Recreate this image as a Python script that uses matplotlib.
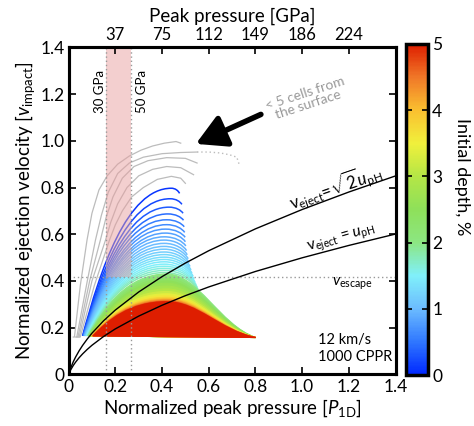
import matplotlib
matplotlib.use('Agg')
import matplotlib.pyplot as plt
from matplotlib.path import Path
from matplotlib.patches import PathPatch, Rectangle
from matplotlib.colors import LinearSegmentedColormap, Normalize
import matplotlib.cm as cm

plt.rcParams['font.family'] = ['Lato', 'DejaVu Sans']
plt.rcParams['mathtext.fontset'] = 'custom'
plt.rcParams['mathtext.rm'] = 'Lato'
plt.rcParams['mathtext.it'] = 'Lato:italic'
plt.rcParams['mathtext.sf'] = 'Lato'

# ---------------- data ----------------
x_ticks = [0, 0.2, 0.4, 0.6, 0.8, 1.0, 1.2, 1.4]
x_ticklabels = ['0', '0.2', '0.4', '0.6', '0.8', '1.0', '1.2', '1.4']
y_ticks = [0, 0.2, 0.4, 0.6, 0.8, 1.0, 1.2, 1.4]
y_ticklabels = ['0', '0.2', '0.4', '0.6', '0.8', '1.0', '1.2', '1.4']
top_ticks = [0.2, 0.4, 0.6, 0.8, 1.0, 1.2]
top_ticklabels = ['37', '75', '112', '149', '186', '224']
cbar_ticks = [0, 1, 2, 3, 4, 5]

band_x = [0.161, 0.268]        # 30 GPa, 50 GPa
v_escape = 0.415
floor_y = 0.165
tip = (0.80, 0.158)

# colormap (depth fraction -> colour)
cmap_pos = [0.0, 0.1, 0.2, 0.3, 0.4, 0.5, 0.6, 0.7, 0.8, 0.9, 1.0]
cmap_col = ['#0028ff', '#3078ff', '#6cbcff', '#80f0fa', '#8ce682', '#8ee05a',
            '#b4e646', '#f0f03c', '#fac030', '#f07828', '#de1e00']

# hugoniot-based curves
hug_p = [0, 0.002, 0.005, 0.01, 0.02, 0.03, 0.045, 0.06, 0.08, 0.1, 0.15, 0.2,
         0.3, 0.4, 0.5, 0.6, 0.8, 1.0, 1.2, 1.4]
v_upH = [0, 0.0048, 0.0114, 0.0213, 0.0382, 0.0526, 0.0714, 0.0878, 0.1072,
         0.1247, 0.1625, 0.1948, 0.2495, 0.2960, 0.3371, 0.3744, 0.4407,
         0.4992, 0.5522, 0.6010]
v_sqrt2upH = [0, 0.0068, 0.0161, 0.0301, 0.0540, 0.0744, 0.1010, 0.1242,
              0.1516, 0.1763, 0.2298, 0.2755, 0.3528, 0.4186, 0.4767, 0.5295,
              0.6232, 0.7060, 0.7809, 0.8499]

# gray curves (< 5 cells from the surface)
gray_x = [
    [0.02, 0.025, 0.05, 0.079, 0.10, 0.13, 0.165, 0.21, 0.26, 0.31, 0.36, 0.41, 0.46, 0.48],
    [0.03, 0.035, 0.08, 0.115, 0.14, 0.17, 0.21, 0.26, 0.32, 0.40, 0.48, 0.55],
    [0.035, 0.04, 0.09, 0.136, 0.16, 0.19, 0.23, 0.28, 0.34, 0.42, 0.50, 0.55],
    [0.04, 0.045, 0.10, 0.158, 0.18, 0.21, 0.25, 0.30, 0.36, 0.42, 0.48, 0.535],
    [0.045, 0.05, 0.11, 0.175, 0.20, 0.23, 0.27, 0.32, 0.38, 0.44, 0.48, 0.50],
]
gray_y = [
    [0.16, 0.16, 0.38, 0.576, 0.69, 0.79, 0.85, 0.90, 0.935, 0.96, 0.978, 0.99, 0.997, 0.99],
    [0.16, 0.16, 0.40, 0.575, 0.68, 0.78, 0.86, 0.905, 0.93, 0.945, 0.95, 0.952],
    [0.16, 0.16, 0.40, 0.575, 0.67, 0.76, 0.84, 0.89, 0.915, 0.928, 0.925, 0.905],
    [0.16, 0.16, 0.40, 0.575, 0.65, 0.73, 0.80, 0.85, 0.878, 0.89, 0.885, 0.855],
    [0.16, 0.16, 0.38, 0.575, 0.64, 0.70, 0.76, 0.80, 0.835, 0.848, 0.84, 0.818],
]
gray_tail_x = [0.55, 0.60, 0.65, 0.69, 0.72, 0.73]
gray_tail_y = [0.952, 0.952, 0.948, 0.94, 0.93, 0.90]

# line-like arches (shallow depths)
line_depth = [0.08, 0.2, 0.32, 0.44, 0.55, 0.65, 0.74, 0.82, 0.89, 0.95, 1.01,
              1.07, 1.13, 1.19, 1.25, 1.31, 1.37, 1.43, 1.49, 1.55, 1.62, 1.7, 1.78]
line_peak_y = [0.797, 0.752, 0.716, 0.687, 0.662, 0.641, 0.622, 0.605, 0.589,
               0.575, 0.561, 0.548, 0.536, 0.524, 0.513, 0.502, 0.492, 0.482,
               0.472, 0.463, 0.454, 0.445, 0.436]
line_peak_x = [0.44, 0.435, 0.43, 0.425, 0.42, 0.42, 0.415, 0.415, 0.41, 0.41,
               0.41, 0.41, 0.41, 0.41, 0.41, 0.41, 0.41, 0.41, 0.41, 0.41,
               0.41, 0.41, 0.41]
line_foot_x = [0.060, 0.061, 0.062, 0.063, 0.064, 0.065, 0.066, 0.067, 0.068,
               0.069, 0.070, 0.071, 0.072, 0.073, 0.074, 0.075, 0.076, 0.077,
               0.078, 0.079, 0.080, 0.081, 0.082]
line_end_x = [0.475, 0.485, 0.49, 0.492, 0.495, 0.497, 0.499, 0.500, 0.502,
              0.505, 0.508, 0.512, 0.516, 0.52, 0.524, 0.528, 0.533, 0.537,
              0.541, 0.546, 0.551, 0.556, 0.561]
line_end_y = [0.775, 0.728, 0.69, 0.66, 0.632, 0.608, 0.587, 0.568, 0.55,
              0.53, 0.512, 0.495, 0.478, 0.462, 0.447, 0.433, 0.42, 0.407,
              0.395, 0.383, 0.372, 0.36, 0.35]

# dense filled arches (deeper)
fill_depth = [2.05, 2.2, 2.35, 2.5, 2.65, 2.8, 3.0, 3.2, 3.4, 3.6, 3.8, 4.0,
              4.2, 4.4, 4.6, 4.8, 5.0]
fill_peak_y = [0.43, 0.42, 0.41, 0.40, 0.39, 0.378, 0.366, 0.355, 0.345,
               0.337, 0.33, 0.325, 0.321, 0.317, 0.314, 0.312, 0.311]
fill_peak_x = [0.42] * 17
fill_foot_x = [0.083, 0.085, 0.087, 0.089, 0.091, 0.093, 0.095, 0.096, 0.097,
               0.098, 0.099, 0.100, 0.101, 0.102, 0.103, 0.104, 0.105]

# ---------------- figure ----------------
fig = plt.figure(figsize=(4.74, 4.26), dpi=100)
ax = fig.add_axes([68.6 / 474, 1 - 374.4 / 426, 327 / 474, 327 / 426])
ax.set_xlim(0, 1.4)
ax.set_ylim(0, 1.4)

cmap = LinearSegmentedColormap.from_list('depth', list(zip(cmap_pos, cmap_col)))
norm = Normalize(0, 5)

# gray curves
for gx, gy in zip(gray_x, gray_y):
    ax.plot(gx, gy, color='#bcbcbc', lw=0.9, zorder=2)
ax.plot(gray_tail_x, gray_tail_y, color='#bcbcbc', lw=1.0, ls=(0, (1, 2)), zorder=2)

def arch_left(xf, xp, yp):
    dx, dy = xp - xf, yp - floor_y
    return [(xf, floor_y), (xf + 0.2 * dx, floor_y + 0.45 * dy),
            (xf + 0.5 * dx, yp), (xp, yp)]

# line arches
for d, py, px, fx, ex, ey in zip(line_depth, line_peak_y, line_peak_x,
                                 line_foot_x, line_end_x, line_end_y):
    verts = arch_left(fx, px, py)
    verts += [(px + 0.5 * (ex - px), py), (ex - 0.15 * (ex - px), ey + 0.5 * (py - ey)),
              (ex, ey)]
    codes = [Path.MOVETO] + [Path.CURVE4] * 6
    ax.add_patch(PathPatch(Path(verts, codes), fill=False, lw=1.1,
                           edgecolor=cmap(norm(d)), zorder=3))

# filled arches
for d, py, px, fx in zip(fill_depth, fill_peak_y, fill_peak_x, fill_foot_x):
    verts = arch_left(fx, px, py)
    tx, ty = tip
    verts += [(px + 0.35 * (tx - px), py), (px + 0.6 * (tx - px), py - 0.8 * (py - ty)),
              (tx, ty), (fx, floor_y), (fx, floor_y)]
    codes = [Path.MOVETO] + [Path.CURVE4] * 6 + [Path.LINETO, Path.CLOSEPOLY]
    c = cmap(norm(d))
    ax.add_patch(PathPatch(Path(verts, codes), facecolor=c, edgecolor=c, lw=0.8,
                           zorder=4))

# pink band above escape velocity
ax.add_patch(Rectangle((band_x[0], v_escape), band_x[1] - band_x[0], 1.4 - v_escape,
                       facecolor='#e8a0a0', alpha=0.5, edgecolor='none', zorder=5))
for bx in band_x:
    ax.axvline(bx, color='#999999', lw=1.0, ls=(0, (1, 2)), zorder=6)
ax.axhline(v_escape, color='#999999', lw=1.0, ls=(0, (1, 2)), zorder=6)

# theory curves
ax.plot(hug_p, v_sqrt2upH, color='k', lw=1.0, zorder=7)
ax.plot(hug_p, v_upH, color='k', lw=1.0, zorder=7)

# texts
ax.text(0.135, 1.21, '30 GPa', rotation=90, ha='center', va='center', fontsize=9.5, zorder=8)
ax.text(0.314, 1.21, '50 GPa', rotation=90, ha='center', va='center', fontsize=9.5, zorder=8)
ax.text(1.141, 0.80, r'v$_{\mathrm{eject}}$=$\sqrt{2}u_{\mathrm{pH}}$', rotation=19,
        ha='center', va='center', fontsize=12, zorder=8)
ax.text(1.171, 0.578, r'v$_{\mathrm{eject}}$ = $u_{\mathrm{pH}}$', rotation=16,
        ha='center', va='center', fontsize=11, zorder=8)
ax.text(1.218, 0.387, r'$v_{\mathrm{escape}}$', ha='center', va='center', fontsize=11,
        zorder=8)
ax.text(1.069, 0.111, '12 km/s\n1000 CPPR', ha='left', va='center', fontsize=10.5,
        linespacing=1.3, zorder=8)
ax.text(1.02, 1.18, '< 5 cells from\nthe surface', rotation=18, ha='center',
        va='center', fontsize=10, color='#999999', linespacing=1.0, zorder=8)
ax.annotate('', xy=(0.534, 0.982), xytext=(0.834, 1.118),
            arrowprops=dict(arrowstyle='-|>,head_length=0.9,head_width=0.5',
                            lw=4, color='k', mutation_scale=20), zorder=8)

# axes styling
ax.set_xticks(x_ticks)
ax.set_xticklabels(x_ticklabels)
ax.set_yticks(y_ticks)
ax.set_yticklabels(y_ticklabels)
ax.tick_params(direction='in', length=5, width=1.2, labelsize=12.5, right=True,
               top=False, pad=3)
ax.set_xlabel(r'Normalized peak pressure [$P_{\mathrm{1D}}$]', fontsize=13.5, labelpad=2)
ax.set_ylabel(r'Normalized ejection velocity [$v_{\mathrm{impact}}$]', fontsize=13.5,
              labelpad=2)
for s in ax.spines.values():
    s.set_linewidth(2.2)

ax2 = ax.twiny()
ax2.set_xlim(0, 1.4)
ax2.set_xticks(top_ticks)
ax2.set_xticklabels(top_ticklabels)
ax2.tick_params(direction='in', length=5, width=1.2, labelsize=12, pad=3)
ax2.set_xlabel('Peak pressure [GPa]', fontsize=13.5, labelpad=4)
for s in ax2.spines.values():
    s.set_linewidth(2.2)

# colorbar
cax = fig.add_axes([406 / 474, 1 - 375 / 426, 22 / 474, 331 / 426])
sm = cm.ScalarMappable(norm=norm, cmap=cmap)
cb = fig.colorbar(sm, cax=cax, ticks=cbar_ticks)
cb.outline.set_linewidth(2.5)
cax.tick_params(direction='in', length=4, width=1.2, labelsize=12.5, left=True, pad=3)
fig.text(462 / 474, 1 - 177 / 426, 'Initial depth, %', rotation=270, ha='center',
         va='center', fontsize=13)

fig.savefig('out.png', dpi=100)
